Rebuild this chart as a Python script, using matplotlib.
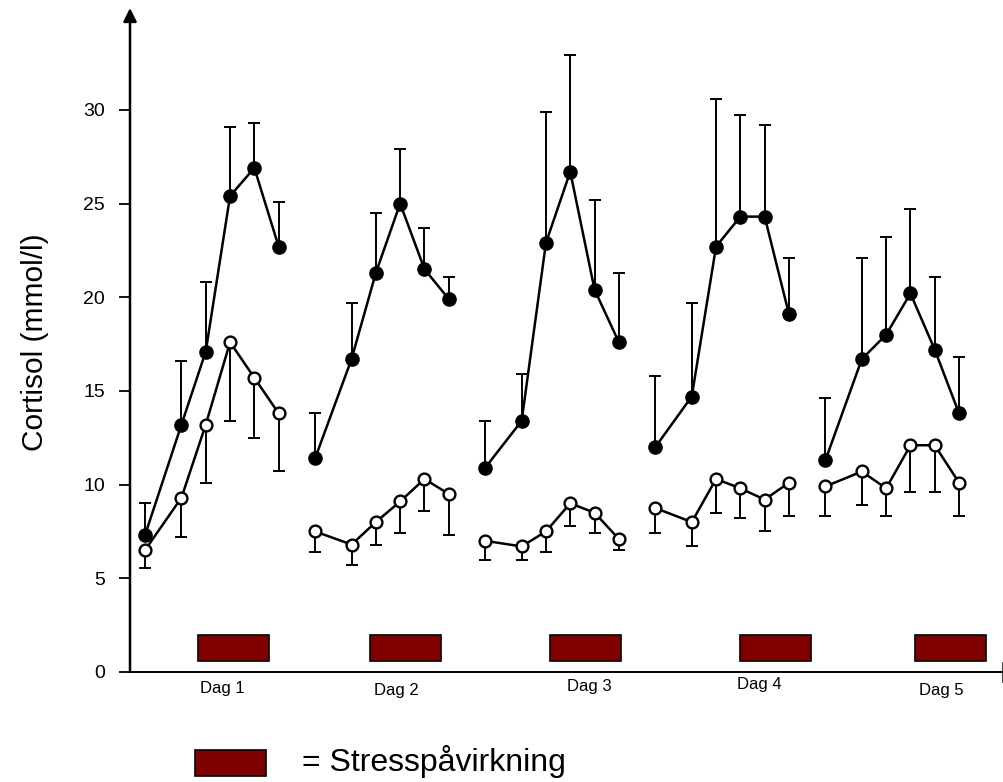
import matplotlib
matplotlib.use("Agg")
import matplotlib.pyplot as plt
from matplotlib.patches import Rectangle
from matplotlib.lines import Line2D
import numpy as np

plt.rcParams["font.family"] = ["Liberation Sans", "DejaVu Sans"]

# Sampling times within one day (hours after first sample) and day offsets
sample_offsets = [0.0, 1.5, 2.5, 3.5, 4.5, 5.5]
day_starts = [0, 7, 14, 21, 28]
day_labels = ["Dag 1", "Dag 2", "Dag 3", "Dag 4", "Dag 5"]

# Stressed group (filled circles): means and upper error limits
stress_mean = [
    [7.3, 13.2, 17.1, 25.4, 26.9, 22.7],
    [11.4, 16.7, 21.3, 25.0, 21.5, 19.9],
    [10.9, 13.4, 22.9, 26.7, 20.4, 17.6],
    [12.0, 14.7, 22.7, 24.3, 24.3, 19.1],
    [11.3, 16.7, 18.0, 20.2, 17.2, 13.8],
]
stress_upper = [
    [9.0, 16.6, 20.8, 29.1, 29.3, 25.1],
    [13.8, 19.7, 24.5, 27.9, 23.7, 21.1],
    [13.4, 15.9, 29.9, 32.9, 25.2, 21.3],
    [15.8, 19.7, 30.6, 29.7, 29.2, 22.1],
    [14.6, 22.1, 23.2, 24.7, 21.1, 16.8],
]

# Control group (open circles): means and lower error limits
control_mean = [
    [6.5, 9.3, 13.2, 17.6, 15.7, 13.8],
    [7.5, 6.8, 8.0, 9.1, 10.3, 9.5],
    [7.0, 6.7, 7.5, 9.0, 8.5, 7.1],
    [8.75, 8.0, 10.3, 9.8, 9.2, 10.1],
    [9.9, 10.7, 9.8, 12.1, 12.1, 10.1],
]
control_lower = [
    [5.55, 7.2, 10.1, 13.4, 12.5, 10.7],
    [6.4, 5.7, 6.8, 7.4, 8.6, 7.3],
    [6.0, 6.0, 6.4, 7.8, 7.4, 6.5],
    [7.4, 6.7, 8.5, 8.2, 7.5, 8.3],
    [8.3, 8.9, 8.3, 9.6, 9.6, 8.3],
]

# Stress exposure periods (start, length in hours)
stress_start = [2.2, 9.25, 16.65, 24.5, 31.7]
stress_length = 2.92
yticks = [0, 5, 10, 15, 20, 25, 30]

W, H = 1004, 782
fig = plt.figure(figsize=(W / 100, H / 100), dpi=100)
ax_left, ax_right, ax_bottom, ax_top = 130, 1003, 672, 8
ax = fig.add_axes([ax_left / W, (H - ax_bottom) / H,
                   (ax_right - ax_left) / W, (ax_bottom - ax_top) / H])

px_per_hour = 24.3
px_per_unit = 18.74
x0 = (ax_left - 145) / px_per_hour
ax.set_xlim(x0, x0 + (ax_right - ax_left) / px_per_hour)
ax.set_ylim(0, (ax_bottom - ax_top) / px_per_unit)

bar_red = "#800000"
lw = 1.8

for d, start in enumerate(day_starts):
    xs = np.array(sample_offsets) + start

    # control group
    cm = np.array(control_mean[d])
    cl = np.array(control_lower[d])
    ax.errorbar(xs, cm, yerr=[cm - cl, np.zeros_like(cm)], fmt="none",
                ecolor="black", elinewidth=1.4, capsize=4, capthick=1.4, zorder=2)
    ax.plot(xs, cm, color="black", lw=lw, zorder=3)
    ax.plot(xs, cm, "o", ms=8.5, mfc="white", mec="black", mew=1.7, zorder=4)

    # stressed group
    sm = np.array(stress_mean[d])
    su = np.array(stress_upper[d])
    ax.errorbar(xs, sm, yerr=[np.zeros_like(sm), su - sm], fmt="none",
                ecolor="black", elinewidth=1.4, capsize=4, capthick=1.4, zorder=2)
    ax.plot(xs, sm, color="black", lw=lw, zorder=3)
    ax.plot(xs, sm, "o", ms=9.5, mfc="black", mec="black", zorder=4)

    # stress period
    ax.add_patch(Rectangle((stress_start[d], 0.6), stress_length, 1.35,
                           facecolor=bar_red, edgecolor="black", lw=1.2, zorder=2))

# Day labels under the axis
dag_x = [3.2, 10.33, 18.3, 25.3, 32.75]
dag_y_px = [688, 691, 686, 684, 691]
for lab, xd, yp in zip(day_labels, dag_x, dag_y_px):
    ax.text(xd, -(yp - ax_bottom) / px_per_unit, lab, ha="center", va="center",
            fontsize=12, clip_on=False)

# Axes: plain lines, arrow on the y axis
for s in ax.spines.values():
    s.set_visible(False)
ax.set_xticks([])
ax.set_yticks(yticks)
ax.tick_params(axis="y", direction="out", length=8, width=1.3, pad=10, labelsize=14)
ax.annotate("", xy=(0, 1.0), xytext=(0, 0), xycoords="axes fraction",
            arrowprops=dict(arrowstyle="-|>", lw=1.8, color="black",
                            mutation_scale=20, shrinkA=0, shrinkB=0))
ax.add_line(Line2D([0, 1], [0, 0], transform=ax.transAxes, color="black",
                   lw=1.4, clip_on=False))
ax.add_line(Line2D([1, 1], [-0.014, 0.014], transform=ax.transAxes, color="black",
                   lw=1.8, clip_on=False))

fig.text(35 / W, 1 - 342 / H, "Cortisol (mmol/l)", rotation=90,
         ha="center", va="center", fontsize=21.5)

# Key for the stress bars
fig.patches.append(Rectangle((195 / W, 1 - 776 / H), 71 / W, 26 / H,
                             transform=fig.transFigure, facecolor=bar_red,
                             edgecolor="black", lw=1.2))
fig.text(302 / W, 1 - 761 / H, "= Stresspåvirkning", ha="left", va="center",
         fontsize=23)

fig.savefig("out.png", dpi=100)
